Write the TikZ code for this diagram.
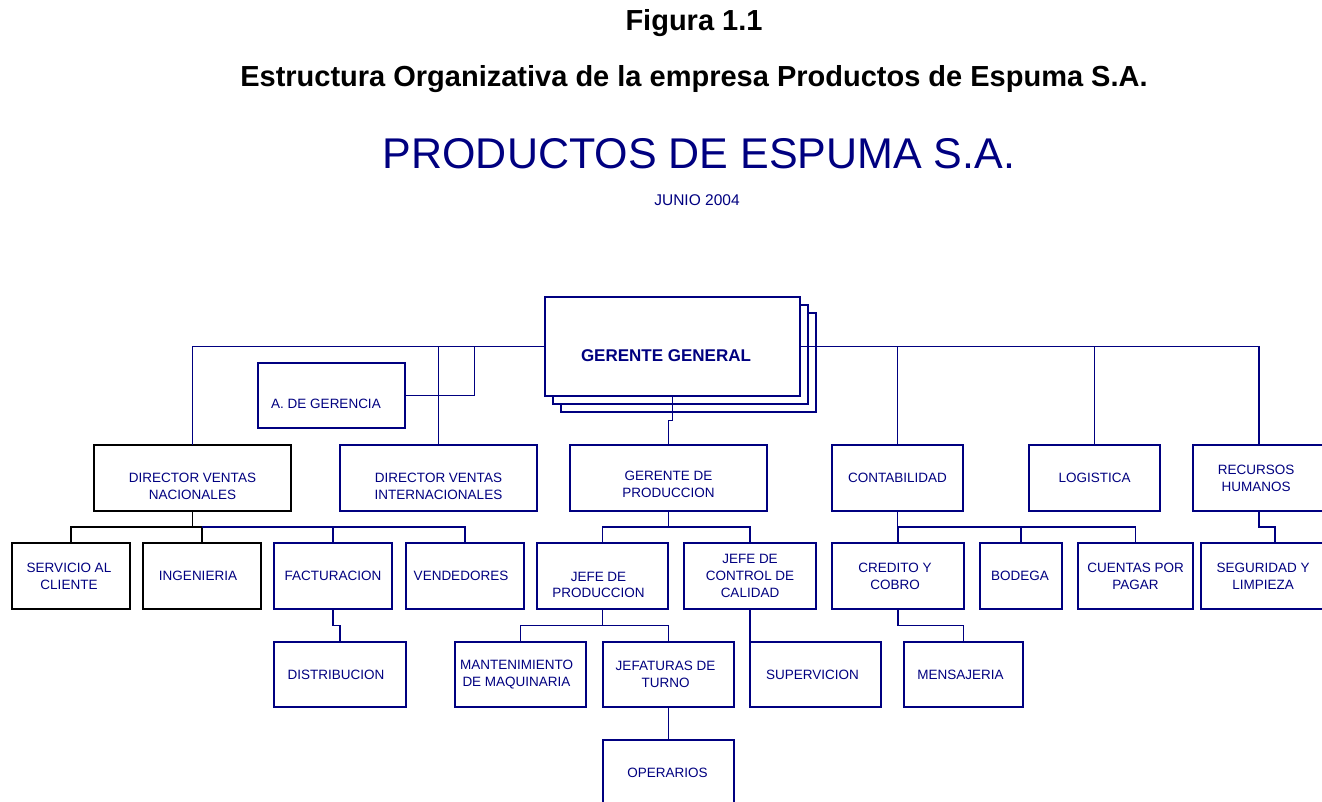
\documentclass[tikz,border=0pt]{standalone}
\usepackage{fontspec}
\setmainfont{Liberation Sans}
\definecolor{nv}{RGB}{0,0,128}
\tikzset{
  bx/.style={draw=nv, line width=1.6pt, fill=white, inner sep=0pt, outer sep=0pt},
  bxk/.style={bx, draw=black},
  txt/.style={text=nv, align=center, inner sep=0pt, font=\fontsize{13.5}{16.7}\selectfont},
  ln/.style={draw=nv, line width=1.1pt},
  lnk/.style={draw=black, line width=1.1pt},
  ttl/.style={anchor=base, inner sep=0pt, font=\bfseries\fontsize{29}{34}\selectfont},
}
% style, name, cx, cy, w, h, dx, dy(down), text
\newcommand{\bx}[9][bx]{%
  \node[#1, minimum width=#5pt, minimum height=#6pt] (#2) at (#3,#4) {};
  \node[txt] (#2-t) at ([xshift=#7pt,yshift=-#8pt]#2.center) {#9};}
\begin{document}
\begin{tikzpicture}[x=1pt,y=-1pt]
\useasboundingbox (0,0) rectangle (1322,801);
\clip (0,0) rectangle (1322,801);
% titles
\node[ttl] (fig) at (694,30) {Figura 1.1};
\node[ttl] (sub) at (694,86) {Estructura Organizativa de la empresa Productos de Espuma S.A.};
\node[anchor=base, inner sep=0pt, text=nv, font=\fontsize{43}{50}\selectfont] (emp) at (699,168) {PRODUCTOS DE ESPUMA S.A.};
\node[anchor=base, inner sep=0pt, text=nv, font=\fontsize{15.5}{18}\selectfont] (fec) at (697,205) {JUNIO 2004};
% gerente general with stacked shadows
\node[bx, minimum width=255pt, minimum height=99pt] (gg3) at (688.5,362.5) {};
\node[bx, minimum width=255pt, minimum height=99pt] (gg2) at (680.5,354.5) {};
\node[bx, minimum width=255pt, minimum height=99pt] (gg) at (672.5,346.5) {};
\node[txt, font=\bfseries\fontsize{17}{20}\selectfont] (gg-t) at (666,356) {GERENTE GENERAL};
\bx{ag}{331.5}{395.5}{147}{65}{-5.5}{8.5}{A. DE GERENCIA}
% level 2
\bx[bxk]{dvn}{192.5}{478}{197}{66}{0}{8.5}{DIRECTOR VENTAS\\NACIONALES}
\bx{dvi}{438.5}{478}{197}{66}{0}{8.5}{DIRECTOR VENTAS\\INTERNACIONALES}
\bx{gp}{668.5}{478}{197}{66}{0}{6}{GERENTE DE\\PRODUCCION}
\bx{cont}{897.5}{478}{131}{66}{0}{0}{CONTABILIDAD}
\bx{log}{1094.5}{478}{131}{66}{0}{0}{LOGISTICA}
\bx{rrhh}{1259}{478}{132}{66}{-3}{0}{RECURSOS\\HUMANOS}
% level 3
\bx[bxk]{svc}{71}{576}{118}{66}{-2}{0}{SERVICIO AL\\CLIENTE}
\bx[bxk]{ing}{202}{576}{118}{66}{-4}{0}{INGENIERIA}
\bx{fact}{333}{576}{118}{66}{0}{0}{FACTURACION}
\bx{vend}{465}{576}{118}{66}{-4}{0}{VENDEDORES}
\bx{jp}{602.5}{576}{131}{66}{-4}{9}{JEFE DE\\PRODUCCION}
\bx{jcc}{750}{576}{132}{66}{0}{0}{JEFE DE\\CONTROL DE\\CALIDAD}
\bx{cred}{898}{576}{132}{66}{-3}{0}{CREDITO Y\\COBRO}
\bx{bod}{1021}{576}{82}{66}{-1}{0}{BODEGA}
\bx{cxp}{1135.5}{576}{115}{66}{0}{0}{CUENTAS POR\\PAGAR}
\bx{seg}{1263}{576}{124}{66}{0}{0}{SEGURIDAD Y\\LIMPIEZA}
% level 4
\bx{dist}{340}{674.5}{132}{65}{-4}{0}{DISTRIBUCION}
\bx{mant}{520.5}{674.5}{131}{65}{-4}{0}{MANTENIMIENTO\\DE MAQUINARIA}
\bx{jt}{668.5}{674.5}{131}{65}{-3}{0}{JEFATURAS DE\\TURNO}
\bx{sup}{815.5}{674.5}{131}{65}{-3}{0}{SUPERVICION}
\bx{mens}{963.5}{674.5}{119}{65}{-3}{0}{MENSAJERIA}
% level 5
\bx{ope}{668.5}{773}{131}{66}{-1}{0}{OPERARIOS}
% connectors from gerente general
\coordinate (agj) at (474.6,346.5);
\draw[ln] (gg.west) -| (dvn.north);
\draw[ln] (gg.west) -| (dvi.north);
\draw[ln] (ag.east) -| (agj);
\draw[ln] (gg.east) -| (cont.north);
\draw[ln] (gg.east) -| (log.north);
\draw[ln] (gg.east) -| (rrhh.north);
\draw[ln] (gg.south) -- ++(0,24.5) -| (gp.north);
% director ventas nacionales
\draw[lnk] (dvn.south) -- ++(0,16);
\draw[lnk] (svc.north) -- ++(0,-16) -| (ing.north);
\draw[ln] (ing.north) ++(0,-16) -| (vend.north);
\draw[ln] (fact.north) -- ++(0,-16);
\draw[ln] (fact.south) -- ++(0,16.5) -| (dist.north);
% gerente de produccion
\draw[ln] (gp.south) -- ++(0,16);
\draw[ln] (jp.north) -- ++(0,-16) -| (jcc.north);
\draw[ln] (jp.south) -- ++(0,16.5);
\draw[ln] (mant.north) -- ++(0,-16.5) -| (jt.north);
\draw[ln] (jt.south) -- (ope.north);
\draw[ln] (jcc.south) -- (sup.north west);
% contabilidad
\draw[ln] (cont.south) -- ++(0,16);
\draw[ln] (cred.north) -- ++(0,-16) -| (cxp.north);
\draw[ln] (bod.north) -- ++(0,-16);
\draw[ln] (cred.south) -- ++(0,16.5) -| (mens.north);
% recursos humanos
\draw[ln] (rrhh.south) -- ++(0,16) -| ([xshift=12pt]seg.north);
\end{tikzpicture}
\end{document}
